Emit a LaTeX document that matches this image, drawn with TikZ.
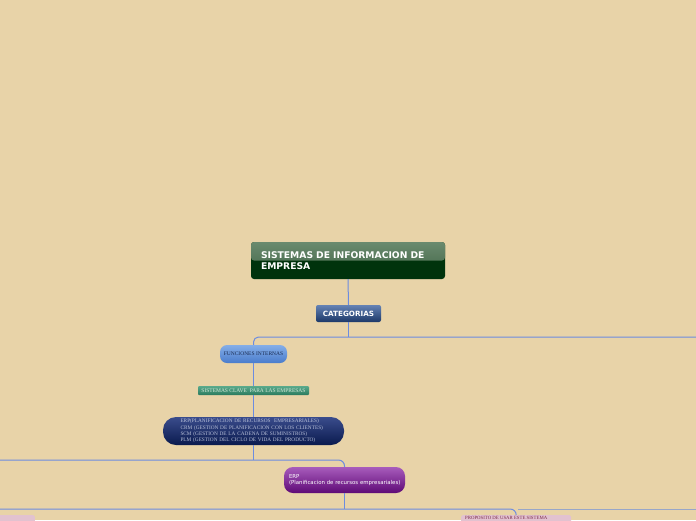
\documentclass[tikz,border=0pt]{standalone}
\usepackage{fontspec}
\setmainfont{Liberation Serif}
\newfontfamily\verd{DejaVu Sans}
\begin{document}
\begin{tikzpicture}[x=1pt,y=-1pt,
  conn/.style={draw=lineblue, line width=1pt},
  connb/.style={draw=linegrey, line width=1pt},
  rootbox/.style={draw=none, fill=rootdark, rounded corners=3pt, minimum width=194pt, minimum height=37pt,
     text width=174pt, align=left, inner xsep=10pt, inner ysep=0pt, text=white,
     font=\verd\bfseries\fontsize{9.2}{11}\selectfont,
     path picture={\shade[top color=roottop, bottom color=rootmid] (path picture bounding box.north west) rectangle (path picture bounding box.east);}},
  catbox/.style={draw=none, rounded corners=2pt, top color=cattop, bottom color=catbot, minimum width=65pt, minimum height=17pt,
     inner sep=0pt, text=white, font=\verd\bfseries\fontsize{7.2}{8}\selectfont},
  funbox/.style={draw=none, rounded corners=7pt, top color=funtop, bottom color=funbot, minimum width=67pt, minimum height=18pt,
     inner sep=0pt, text=fundark, font=\fontsize{5.5}{6}\selectfont},
  sisbox/.style={draw=none, rounded corners=1pt, top color=sistop, bottom color=sisbot, minimum width=111pt, minimum height=9pt,
     inner sep=0pt, text=sistext, font=\fontsize{5.5}{6}\selectfont},
  bigbox/.style={draw=none, rounded corners=13pt, top color=bigtop, bottom color=bigbot, minimum width=181pt, minimum height=28pt,
     text width=146pt, align=left, inner xsep=17.5pt, inner ysep=0pt, text=bigtext, font=\fontsize{5.3}{6.2}\selectfont},
  erpbox/.style={draw=none, rounded corners=9pt, top color=erptop, bottom color=erpbot, minimum width=121pt, minimum height=26pt,
     text width=111pt, align=left, inner xsep=5pt, inner ysep=0pt, text=white, font=\verd\fontsize{5.4}{6.6}\selectfont},
  pinkbox/.style={draw=none, rounded corners=1.5pt, fill=pinkfill, minimum height=14pt, inner sep=0pt,
     text=pinktext, font=\fontsize{4.8}{5}\selectfont}
]
\definecolor{bg}{HTML}{E8D3A8}
\definecolor{lineblue}{HTML}{6C8CE0}
\definecolor{linegrey}{HTML}{98A6C8}
\definecolor{rootdark}{HTML}{00330C}
\definecolor{roottop}{HTML}{6A8A6E}
\definecolor{rootmid}{HTML}{3E6244}
\definecolor{cattop}{HTML}{6482B4}
\definecolor{catbot}{HTML}{1C3868}
\definecolor{funtop}{HTML}{84AEE8}
\definecolor{funbot}{HTML}{4A7CCC}
\definecolor{fundark}{HTML}{1A2A50}
\definecolor{sistop}{HTML}{5AAA8C}
\definecolor{sisbot}{HTML}{2A7A5E}
\definecolor{sistext}{HTML}{D8E8D8}
\definecolor{bigtop}{HTML}{3A4C8C}
\definecolor{bigbot}{HTML}{0A1A4E}
\definecolor{bigtext}{HTML}{B8C0D8}
\definecolor{erptop}{HTML}{A85CBC}
\definecolor{erpbot}{HTML}{5E0A76}
\definecolor{pinkfill}{HTML}{E2C2D0}
\definecolor{pinktext}{HTML}{7A2A4A}

\clip (0,0) rectangle (696,520);
\fill[bg] (0,0) rectangle (696,520);

% nodes
\node[rootbox] (root) at (348,260.5) {SISTEMAS DE INFORMACION DE\\EMPRESA};
\node[catbox] (cat) at (348.5,313.5) {CATEGORIAS};
\node[funbox] (fun) at (253.5,354) {FUNCIONES INTERNAS};
\node[sisbox] (sis) at (253.5,390.5) {SISTEMAS CLAVE\ \ PARA LAS EMPRESAS};
\node[bigbox] (big) at (253.5,431) {ERP(PLANIFICACION DE RECURSOS\ \ EMPRESARIALES)\\CRM (GESTION DE PLANIFICACION CON LOS CLIENTES)\\SCM (GESTION DE LA CADENA DE SUMINISTROS)\\PLM (GESTION DEL CICLO DE VIDA DEL PRODUCTO)};
\node[erpbox] (erp) at (344.5,480) {ERP\\\mbox{(Planificacion de recursos empresariales)}};
\node[pinkbox, minimum width=110pt, anchor=north west] (pr) at (461,515) {};
\node[anchor=base west, inner sep=0pt, text=pinktext, font=\fontsize{4.8}{5}\selectfont] (prt) at (465,519.6) {PROPOSITO DE USAR ESTE SISTEMA};
\node[pinkbox, minimum width=60pt, anchor=north east] (pl) at (35,515) {};

% free ends
\coordinate (r1) at (696,337);
\coordinate (l2) at (0,460);
\coordinate (l3) at (0,509);
\coordinate (r3) at (696,509);

% connectors
\draw[conn] (root.south) -- (cat.north);
\draw[conn] (cat.south) -- (cat.south |- r1);
\draw[conn, rounded corners=5pt] (r1) -- (fun.north |- r1) -- (fun.north);
\draw[conn] (fun.south) -- (sis.north);
\draw[conn] (sis.south) -- (big.north);
\draw[conn] (big.south) -- (big.south |- l2);
\draw[conn, rounded corners=6pt] (l2) -- (erp.north |- l2) -- (erp.north);
\draw[conn] (erp.south) -- (erp.south |- l3);
\draw[conn, rounded corners=6pt] (l3) -- (pr.north |- l3) -- (pr.north);
\draw[connb] (pr.north |- l3) ++(2,0) -- (r3);
\end{tikzpicture}
\end{document}
